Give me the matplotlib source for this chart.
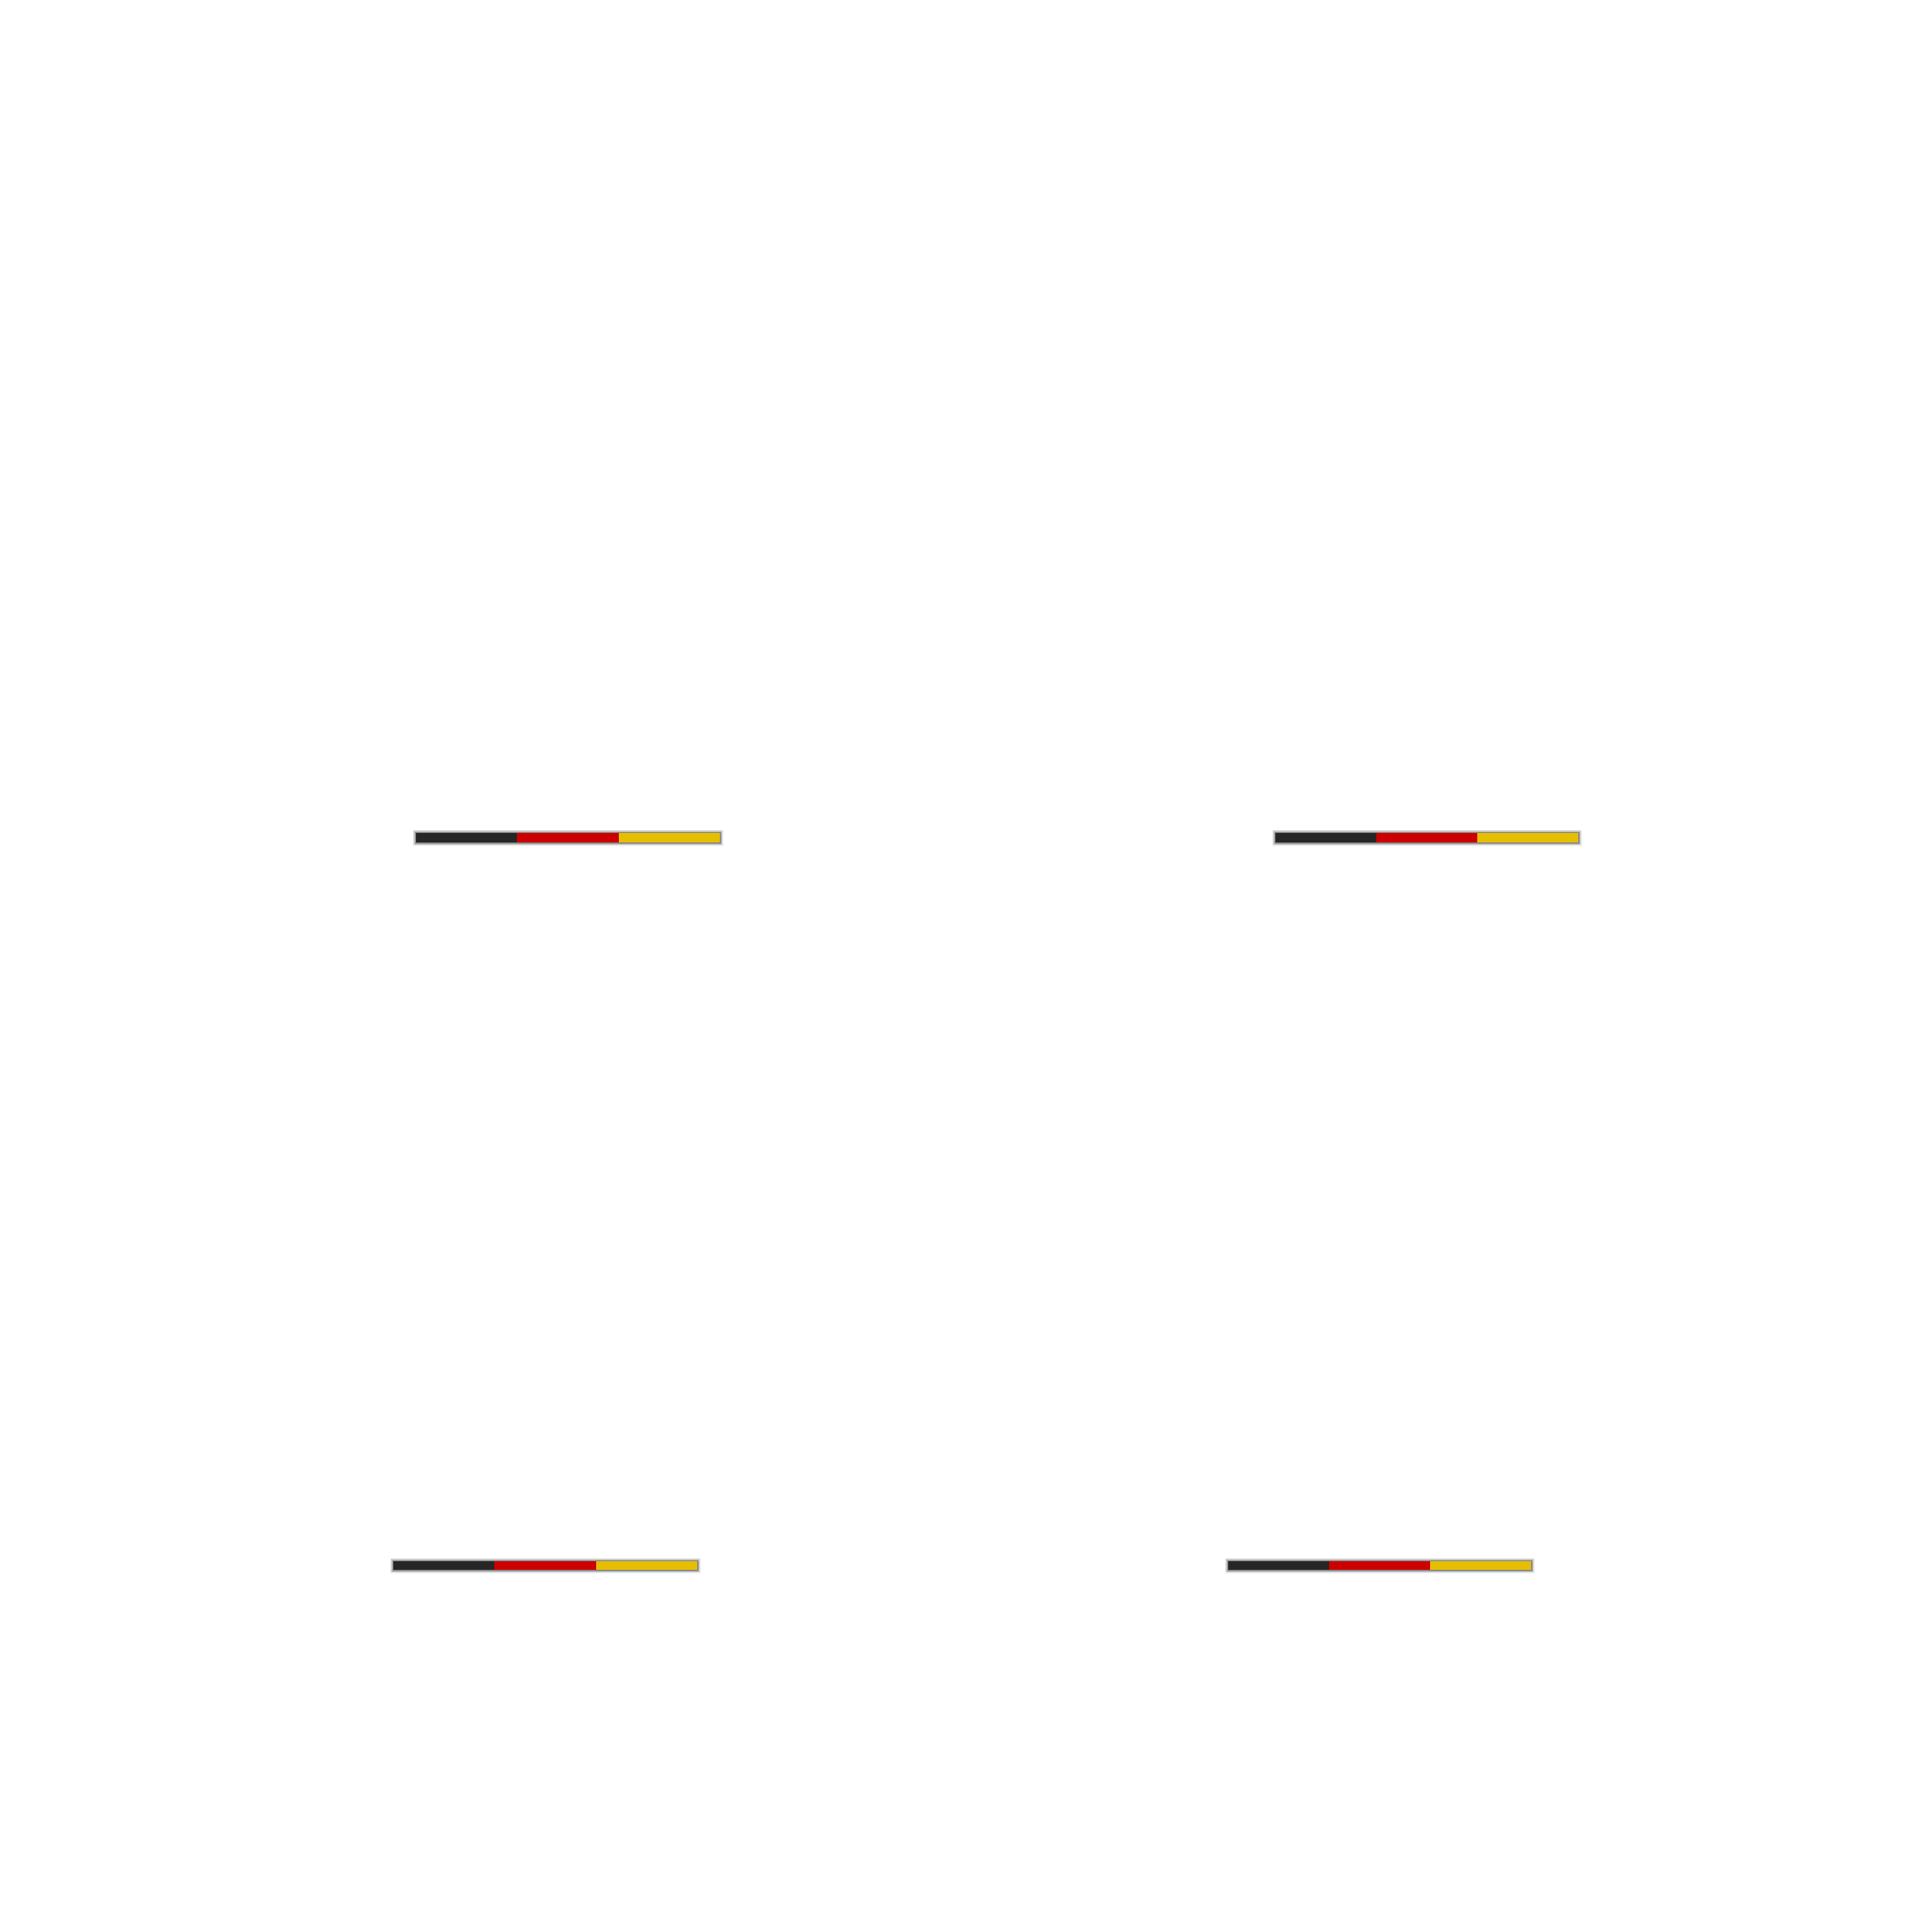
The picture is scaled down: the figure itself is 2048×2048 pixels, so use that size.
import matplotlib
matplotlib.use("Agg")
import matplotlib.pyplot as plt
import matplotlib.patheffects as pe

# flag stripes, same in each of the four panels
stripe_names = ["black", "red", "gold"]
stripe_values = [1.0, 1.0, 1.0]
stripe_colors = ["#262626", "#CC0000", "#E6BE00"]

# panel boxes in pixels: left, right, top, bottom
panel_left = [441, 1352, 417, 1302]
panel_right = [763, 1673, 739, 1623]
panel_top = [883, 883, 1655, 1655]
panel_bottom = [893, 893, 1664, 1664]

SIZE = 2048

fig = plt.figure(figsize=(10.24, 10.24), dpi=200, facecolor="white")

# soft grey glow round the bar, built up from a few wide strokes
halo = [
    pe.Stroke(linewidth=2.6, foreground="#000000", alpha=0.05),
    pe.Stroke(linewidth=2.1, foreground="#000000", alpha=0.08),
    pe.Stroke(linewidth=1.6, foreground="#000000", alpha=0.12),
    pe.Stroke(linewidth=1.1, foreground="#000000", alpha=0.15),
    pe.Stroke(linewidth=0.6, foreground="#000000", alpha=0.20),
    pe.Normal(),
]

for l, r, t, b in zip(panel_left, panel_right, panel_top, panel_bottom):
    ax = fig.add_axes([l / SIZE, 1 - b / SIZE, (r - l) / SIZE, (b - t) / SIZE])
    ax.barh([0], [sum(stripe_values)], height=1.0, color="#808080",
            linewidth=0, clip_on=False, zorder=1,
            path_effects=halo)
    left = 0
    for name, val, col in zip(stripe_names, stripe_values, stripe_colors):
        ax.barh([0], [val], left=left, height=1.0, color=col, linewidth=0,
                clip_on=False, zorder=2, label=name)
        left += val
    ax.set_xlim(0, sum(stripe_values))
    ax.set_ylim(-0.5, 0.5)
    ax.axis("off")

fig.savefig("out.png", dpi=200, facecolor="white")
